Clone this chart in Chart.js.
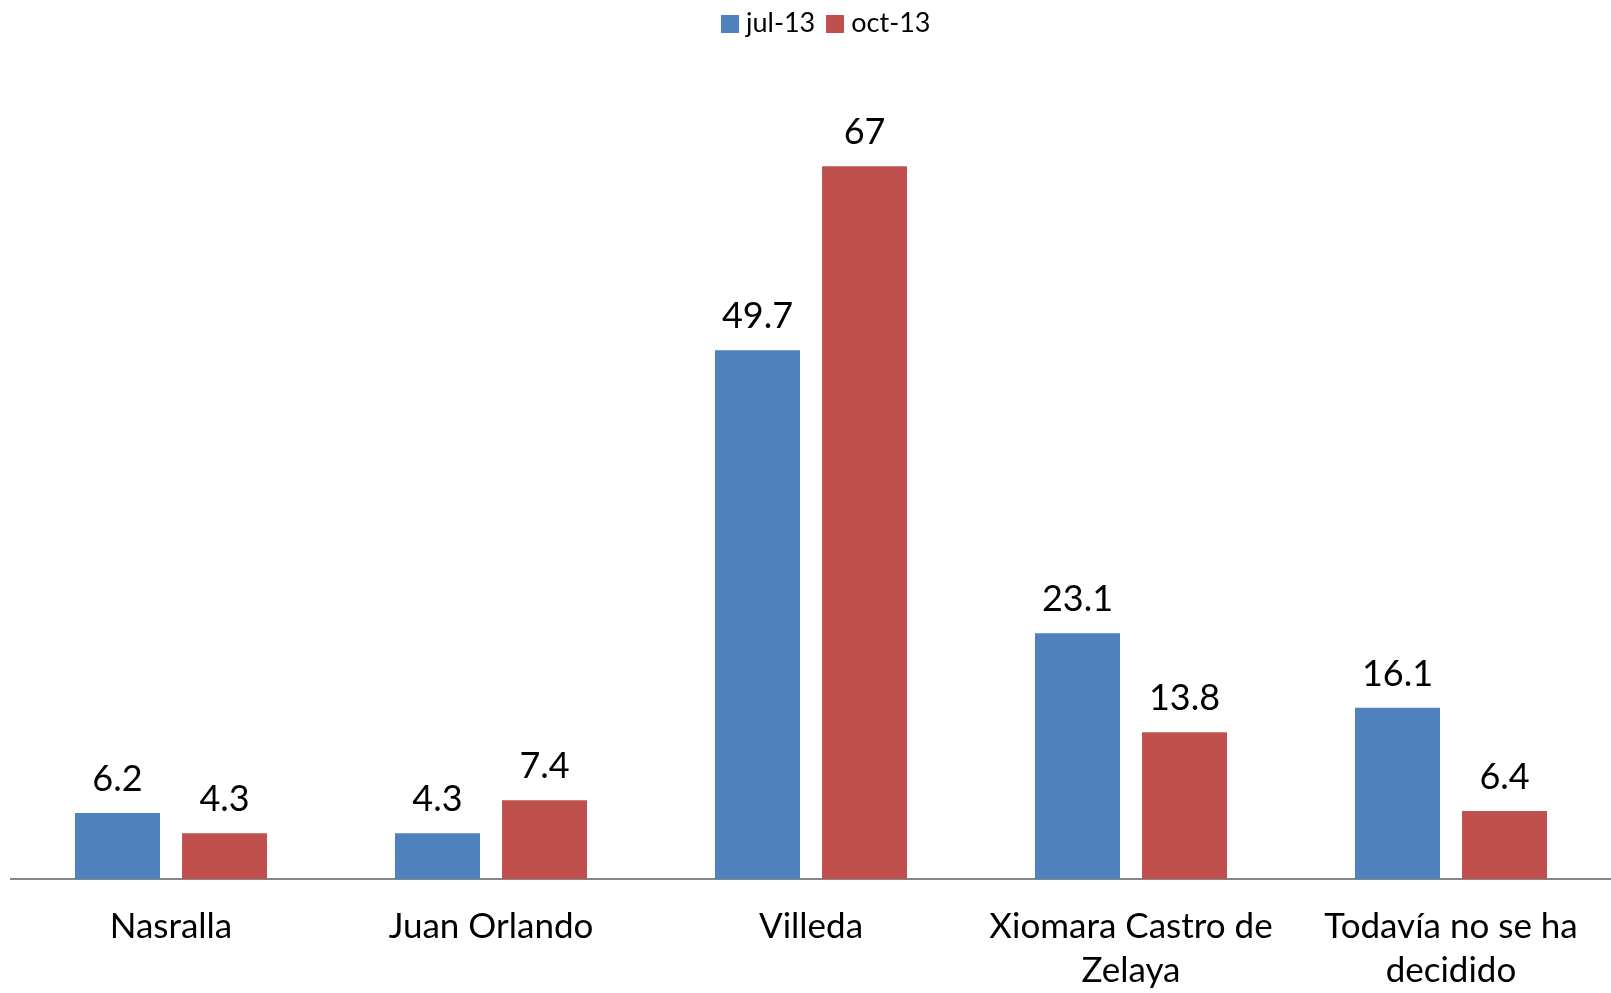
<!DOCTYPE html>
<html>
<head>
<meta charset="utf-8">
<script src="https://cdn.jsdelivr.net/npm/chart.js@4.4.0/dist/chart.umd.min.js"></script>
<style>
  html, body { margin: 0; padding: 0; background: #fff; }
  #wrap { position: relative; width: 1611px; height: 993px; }
  #legend { position: absolute; top: 5px; left: 721px; font-family: Lato, sans-serif; font-size: 27px; color: #000; white-space: nowrap; }
  #legend span.item { display: inline-block; margin-right: 11px; }
  #legend span.box { display: inline-block; width: 18px; height: 18px; margin-right: 7px; vertical-align: -1px; }
</style>
</head>
<body>
<div id="wrap">
  <canvas id="chart" width="1611" height="993"></canvas>
  <div id="legend"></div>
</div>
<script>
// Categories and values
const categories = [
  'Nasralla',
  'Juan Orlando',
  'Villeda',
  ['Xiomara Castro de', 'Zelaya'],
  ['Todavía no se ha', 'decidido']
];
const seriesNames = ['jul-13', 'oct-13'];
const jul13 = [6.2, 4.3, 49.7, 23.1, 16.1];
const oct13 = [4.3, 7.4, 67, 13.8, 6.4];
const colors = ['#4F81BD', '#C0504D'];

// Draw value labels above each bar
const valueLabels = {
  id: 'valueLabels',
  afterDatasetsDraw(chart) {
    const ctx = chart.ctx;
    ctx.save();
    ctx.font = '36px Lato, sans-serif';
    ctx.fillStyle = '#000';
    ctx.textAlign = 'center';
    ctx.textBaseline = 'alphabetic';
    chart.data.datasets.forEach((ds, i) => {
      chart.getDatasetMeta(i).data.forEach((bar, j) => {
        ctx.fillText(String(ds.data[j]), bar.x, bar.y - 22);
      });
    });
    ctx.restore();
  }
};

const chart = new Chart('chart', {
  type: 'bar',
  data: {
    labels: categories,
    datasets: [
      { label: seriesNames[0], data: jul13, backgroundColor: colors[0] },
      { label: seriesNames[1], data: oct13, backgroundColor: colors[1] }
    ]
  },
  options: {
    responsive: false,
    animation: false,
    categoryPercentage: 0.669,
    barPercentage: 0.794,
    layout: { padding: { top: 28, left: 11, right: 0, bottom: 0 } },
    plugins: {
      legend: { display: false },
      tooltip: { enabled: false }
    },
    scales: {
      x: {
        grid: { display: false, drawTicks: false },
        border: { display: true, color: '#868686', width: 2 },
        afterFit(scale) { scale.height = 114; },
        ticks: {
          color: '#000',
          padding: 26,
          font: { family: 'Lato, sans-serif', size: 35, lineHeight: 1.25 },
          maxRotation: 0,
          autoSkip: false
        }
      },
      y: {
        display: false,
        min: 0,
        max: 80
      }
    }
  },
  plugins: [valueLabels]
});

// Legend built from the datasets
const legend = document.getElementById('legend');
chart.data.datasets.forEach(ds => {
  const item = document.createElement('span');
  item.className = 'item';
  const box = document.createElement('span');
  box.className = 'box';
  box.style.background = ds.backgroundColor;
  item.appendChild(box);
  item.appendChild(document.createTextNode(ds.label));
  legend.appendChild(item);
});
</script>
</body>
</html>
